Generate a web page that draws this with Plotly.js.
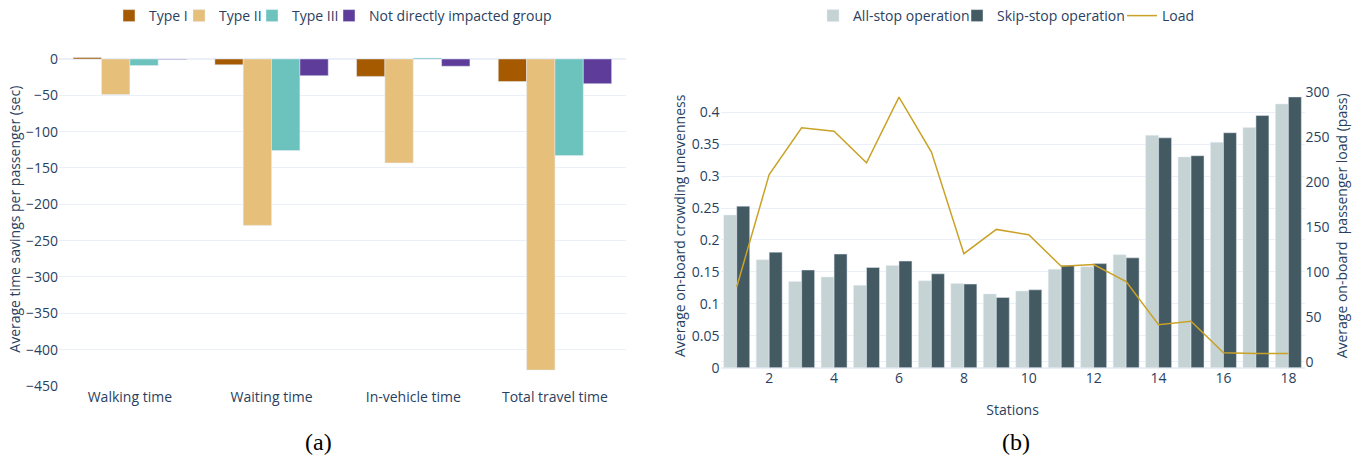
<!DOCTYPE html>
<html><head><meta charset="utf-8">
<script src="https://cdn.plot.ly/plotly-3.0.1.min.js"></script>
<style>html,body{margin:0;padding:0;background:#fff}#chart{width:1364px;height:460px}</style>
</head><body><div id="chart"></div>
<script>
// ---- Panel (a) data ----
const timeComponents = ['Walking time', 'Waiting time', 'In-vehicle time', 'Total travel time'];
const typeI = [2, -8, -24, -31];
const typeII = [-49, -229, -143, -428];
const typeIII = [-9, -126, 1.5, -133];
const notImpacted = [-0.6, -23, -10, -34];

// ---- Panel (b) data ----
const stations = [1, 2, 3, 4, 5, 6, 7, 8, 9, 10, 11, 12, 13, 14, 15, 16, 17, 18];
const allStop = [0.239, 0.169, 0.135, 0.142, 0.129, 0.160, 0.136, 0.132, 0.1155, 0.120, 0.154, 0.158, 0.177, 0.364, 0.330, 0.353, 0.376, 0.413];
const skipStop = [0.253, 0.181, 0.153, 0.178, 0.157, 0.167, 0.147, 0.131, 0.110, 0.122, 0.160, 0.163, 0.172, 0.360, 0.332, 0.368, 0.395, 0.424];
const load = [83, 208, 260, 256, 221, 294, 233, 120, 147, 141, 106, 108, 89, 41, 45, 10, 9, 9];

const FONT = {family: '"Open Sans", sans-serif', size: 14, color: '#2a3f5f'};
const GRID = '#EBF0F8';
const BARLINE = {color: '#E5ECF6', width: 0.5};

const traces = [
  {type: 'bar', name: 'Type I', x: timeComponents, y: typeI, marker: {color: '#A65A00', line: BARLINE}, xaxis: 'x', yaxis: 'y', legend: 'legend'},
  {type: 'bar', name: 'Type II', x: timeComponents, y: typeII, marker: {color: '#E6C07B', line: BARLINE}, xaxis: 'x', yaxis: 'y', legend: 'legend2'},
  {type: 'bar', name: 'Type III', x: timeComponents, y: typeIII, marker: {color: '#6CC2BD', line: BARLINE}, xaxis: 'x', yaxis: 'y', legend: 'legend3'},
  {type: 'bar', name: 'Not directly impacted group', x: timeComponents, y: notImpacted, marker: {color: '#5E3C99', line: BARLINE}, xaxis: 'x', yaxis: 'y', legend: 'legend4'},
  {type: 'bar', name: 'All-stop operation', x: stations, y: allStop, marker: {color: '#C5D3D4', line: BARLINE}, xaxis: 'x2', yaxis: 'y2', legend: 'legend5'},
  {type: 'bar', name: 'Skip-stop operation', x: stations, y: skipStop, marker: {color: '#435A63', line: BARLINE}, xaxis: 'x2', yaxis: 'y2', legend: 'legend6'},
  {type: 'scatter', mode: 'lines', name: 'Load', x: stations, y: load, line: {color: '#C9A227', width: 1.5}, xaxis: 'x2', yaxis: 'y3', legend: 'legend7'}
];

function leg(px) {
  return {orientation: 'h', x: px / 1364, xanchor: 'left', y: 1, yanchor: 'top', font: FONT,
          bgcolor: 'rgba(0,0,0,0)', borderwidth: 0};
}

const layout = {
  width: 1364, height: 460,
  margin: {l: 0, r: 0, t: 0, b: 0},
  paper_bgcolor: '#fff', plot_bgcolor: '#fff',
  font: FONT,
  barmode: 'group',
  bargap: 0.2,
  showlegend: true,
  xaxis: {domain: [59 / 1364, 625.8 / 1364], anchor: 'y', showgrid: false, zeroline: false, showline: false, tickfont: FONT},
  yaxis: {domain: [(460 - 386.7) / 460, (460 - 51.7) / 460], anchor: 'x', range: [-451, 10], dtick: 50,
          gridcolor: GRID, zerolinecolor: GRID, zerolinewidth: 2, tickfont: FONT,
          title: {text: 'Average time savings per passenger (sec)', font: FONT, standoff: 2}},
  xaxis2: {domain: [720.5 / 1364, 1304.6 / 1364], anchor: 'y2', range: [0.5, 18.5], dtick: 2, tick0: 0,
           showgrid: false, zeroline: false, tickfont: FONT,
           title: {text: 'Stations', font: FONT, standoff: 19}},
  yaxis2: {domain: [(460 - 367.7) / 460, (460 - 84) / 460], anchor: 'x2', range: [0, 0.4443], dtick: 0.05,
           gridcolor: GRID, zerolinecolor: GRID, zerolinewidth: 2, tickfont: FONT,
           title: {text: 'Average on-board crowding unevenness', font: FONT, standoff: 2}},
  yaxis3: {overlaying: 'y2', side: 'right', anchor: 'x2', range: [-6.7, 308.6], dtick: 50,
           showgrid: false, zeroline: true, zerolinecolor: GRID, zerolinewidth: 1, tickfont: FONT,
           title: {text: 'Average on-board&nbsp;&nbsp;passenger load (pass)', font: FONT, standoff: 8}},
  legend: leg(109),
  legend2: leg(179),
  legend3: leg(252),
  legend4: leg(329),
  legend5: leg(813),
  legend6: leg(957),
  legend7: leg(1122),
  annotations: [
    {text: '(a)', xref: 'paper', yref: 'paper', x: 318 / 1364, y: (460 - 442) / 460, xanchor: 'center', yanchor: 'middle', showarrow: false,
     font: {family: '"Liberation Serif", "Times New Roman", serif', size: 24, color: '#000'}},
    {text: '(b)', xref: 'paper', yref: 'paper', x: 1016 / 1364, y: (460 - 442) / 460, xanchor: 'center', yanchor: 'middle', showarrow: false,
     font: {family: '"Liberation Serif", "Times New Roman", serif', size: 24, color: '#000'}}
  ]
};

Plotly.newPlot('chart', traces, layout, {displayModeBar: false, staticPlot: true});
</script>
</body></html>
